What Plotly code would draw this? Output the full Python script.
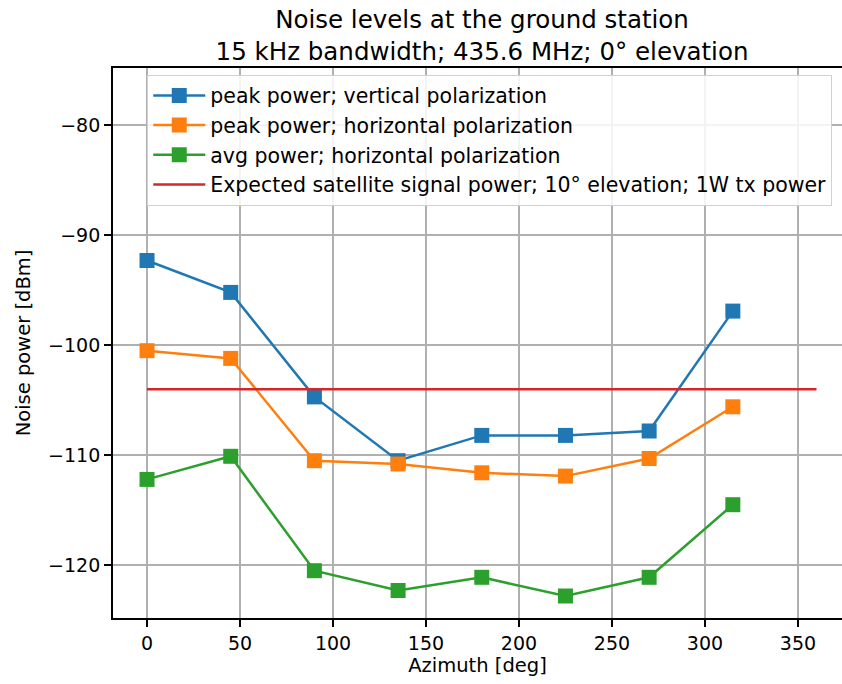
import plotly.graph_objects as go

azimuth = [0, 45, 90, 135, 180, 225, 270, 315]
peak_vertical = [-92.3, -95.2, -104.7, -110.5, -108.2, -108.2, -107.8, -96.9]
peak_horizontal = [-100.5, -101.2, -110.5, -110.8, -111.6, -111.9, -110.3, -105.6]
avg_horizontal = [-112.2, -110.1, -120.5, -122.3, -121.1, -122.8, -121.1, -114.5]
expected_x = [0, 360]
expected_power = [-104.0, -104.0]

names = [
    "peak power; vertical polarization",
    "peak power; horizontal polarization",
    "avg power; horizontal polarization",
    "Expected satellite signal power; 10° elevation; 1W tx power",
]
colors = ["#1f77b4", "#ff7f0e", "#2ca02c", "#d62728"]

fig = go.Figure()
for i, (ys, nm, c) in enumerate(zip([peak_vertical, peak_horizontal, avg_horizontal], names[:3], colors[:3])):
    fig.add_trace(go.Scatter(
        x=azimuth, y=ys, name=nm, mode="lines+markers", legendgroup=f"g{i}",
        line=dict(color=c, width=2.5),
        marker=dict(symbol="square", size=15, color=c),
    ))
fig.add_trace(go.Scatter(
    x=expected_x, y=expected_power, name=names[3], mode="lines", legendgroup="g3",
    line=dict(color=colors[3], width=2.5),
))

font_family = "DejaVu Sans"
fig.update_layout(
    width=842, height=684,
    margin=dict(l=113, r=0, t=68, b=66),
    paper_bgcolor="white", plot_bgcolor="white",
    font=dict(family=font_family, size=19, color="black"),
    title=dict(
        text="Noise levels at the ground station<br>15 kHz bandwidth; 435.6 MHz; 0° elevation",
        x=482 / 842, xanchor="center", xref="container",
        y=1 - 28 / 684, yanchor="middle", yref="container",
        font=dict(size=24.5, family=font_family),
    ),
    showlegend=True,
    legend=dict(
        x=0.047, y=0.988, xanchor="left", yanchor="top",
        bgcolor="rgba(255,255,255,0.85)", bordercolor="#d0d0d0", borderwidth=1,
        font=dict(size=20.5, family=font_family), itemwidth=52,
        tracegroupgap=0,
    ),
    xaxis=dict(
        range=[-18.3, 373.7],
        tickvals=[0, 50, 100, 150, 200, 250, 300, 350],
        showgrid=True, gridcolor="#b0b0b0", gridwidth=1.5,
        showline=True, linecolor="black", linewidth=1.8, mirror=True,
        ticks="outside", ticklen=7, tickwidth=1.5, tickcolor="black",
        zeroline=False,
        title=dict(text="Azimuth [deg]", font=dict(size=19.5), standoff=6),
    ),
    yaxis=dict(
        range=[-124.8, -74.8],
        tickvals=[-80, -90, -100, -110, -120],
        showgrid=True, gridcolor="#b0b0b0", gridwidth=1.5,
        showline=True, linecolor="black", linewidth=1.8, mirror=False,
        ticks="outside", ticklen=7, tickwidth=1.5, tickcolor="black",
        zeroline=False,
        title=dict(text="Noise power [dBm]", font=dict(size=19.5), standoff=12),
    ),
)

fig.write_html(
    "out.html",
    config={"displayModeBar": False},
    post_script="document.body.style.margin='0px';document.body.style.overflow='hidden';",
)
